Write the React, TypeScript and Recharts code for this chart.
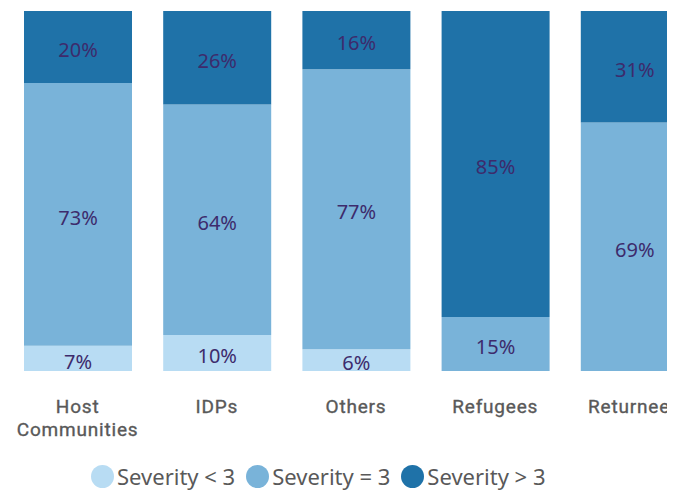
import React from "react";
import { BarChart, Bar, XAxis, YAxis, Legend, LabelList } from "recharts";

const categories = ["Host Communities", "IDPs", "Others", "Refugees", "Returnees"];
const severityLow = [7, 10, 6, 0, 0];
const severityMid = [73, 64, 77, 15, 69];
const severityHigh = [20, 26, 16, 85, 31];

const seriesNames = ["Severity < 3", "Severity = 3", "Severity > 3"];
const seriesColors = ["#b8dcf3", "#79b3d9", "#1f72a8"];

const data = categories.map((name, i) => ({
  name,
  lt3: severityLow[i],
  eq3: severityMid[i],
  gt3: severityHigh[i],
}));

const labelColor = "#3d2b6c";
const tickFont = "Roboto, sans-serif";
const textFont = "'Noto Sans', sans-serif";

const fmt = (v: any) => (v ? `${v}%` : "");

function Tick(props: any) {
  const { x, y, payload } = props;
  const lines = String(payload.value).split(" ");
  return (
    <text
      x={x}
      y={y + 42}
      textAnchor="middle"
      fill="#595959"
      stroke="#595959"
      strokeWidth={0.35}
      fontSize={19}
      letterSpacing={0.8}
      fontFamily={tickFont}
    >
      {lines.map((l, i) => (
        <tspan key={i} x={x} dy={i === 0 ? 0 : 23}>
          {l}
        </tspan>
      ))}
    </text>
  );
}

function LegendBox() {
  return (
    <div
      style={{
        height: 50,
        display: "flex",
        alignItems: "flex-start",
        paddingTop: 24,
        boxSizing: "border-box",
        marginLeft: 83,
        fontFamily: textFont,
        fontSize: 22,
        color: "#595959",
      }}
    >
      {seriesNames.map((n, i) => (
        <div key={n} style={{ display: "flex", alignItems: "center", marginRight: 11, height: 23 }}>
          <span
            style={{
              width: 23,
              height: 23,
              borderRadius: "50%",
              background: seriesColors[i],
              display: "inline-block",
              marginRight: 3,
            }}
          />
          <span style={{ lineHeight: "23px", whiteSpace: "nowrap" }}>{n}</span>
        </div>
      ))}
    </div>
  );
}

export default function App() {
  const keys = ["lt3", "eq3", "gt3"];
  return (
    <div style={{ width: 667, height: 483, overflow: "hidden" }}>
      <BarChart
        width={696}
        height={483}
        data={data}
        stackOffset="expand"
        margin={{ top: 3, right: 0, left: 0, bottom: 0 }}
      >
        <XAxis
          dataKey="name"
          axisLine={false}
          tickLine={false}
          tickSize={0}
          tickMargin={0}
          height={70}
          interval={0}
          tick={<Tick />}
        />
        <YAxis hide domain={[0, 1]} />
        <Legend verticalAlign="bottom" content={<LegendBox />} />
        {keys.map((k, i) => (
          <Bar
            key={k}
            dataKey={k}
            name={seriesNames[i]}
            stackId="a"
            fill={seriesColors[i]}
            barSize={108}
            isAnimationActive={false}
          >
            <LabelList
              dataKey={k}
              position="center"
              formatter={fmt}
              fill={labelColor}
              fontSize={20}
              dy={3}
              fontFamily={textFont}
            />
          </Bar>
        ))}
      </BarChart>
    </div>
  );
}
